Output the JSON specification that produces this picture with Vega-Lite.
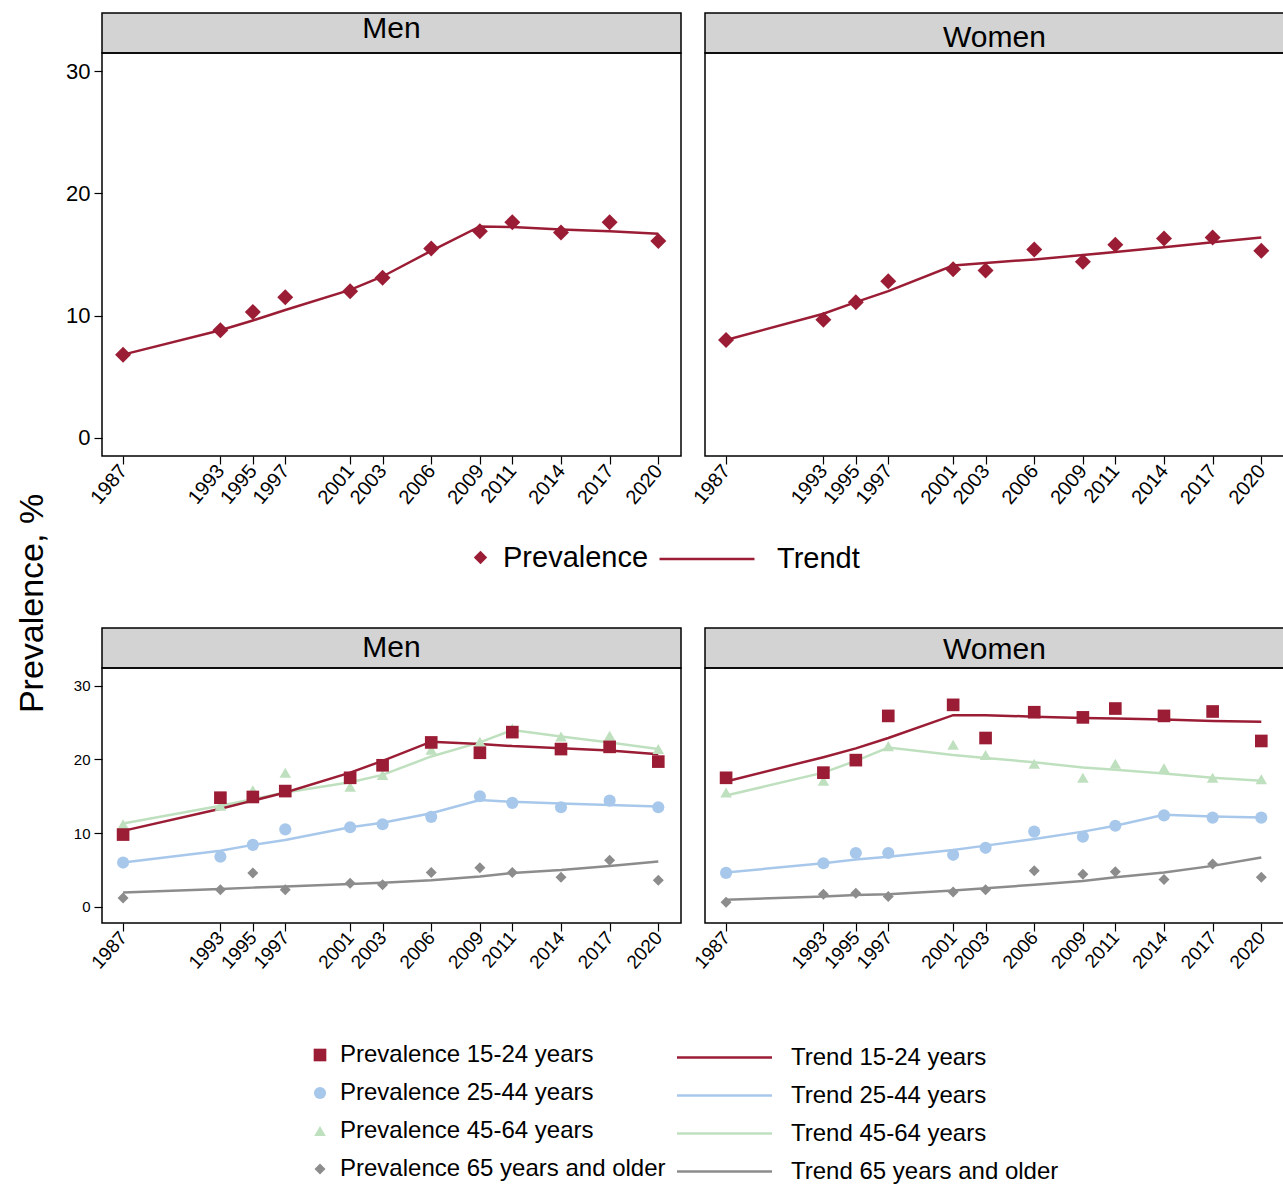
{
  "$schema": "https://vega.github.io/schema/vega-lite/v6.json",
  "padding": {"left": 14, "top": 12, "right": 0, "bottom": 0},
  "config": {
    "font": "Liberation Sans",
    "view": {"stroke": "black", "strokeWidth": 1.5},
    "axis": {"labelColor": "black", "tickColor": "black", "grid": false, "domain": false, "tickSize": 8, "tickWidth": 1.2, "labelOverlap": false},
    "legend": {"labelColor": "black", "padding": 0, "labelLimit": 0},
    "text": {"color": "black"}
  },
  "datasets": {
    "top": [
      {"sex":"Men","year":1987,"Prevalence":6.8,"Trendt":6.8},
      {"sex":"Men","year":1993,"Prevalence":8.8,"Trendt":8.8},
      {"sex":"Men","year":1995,"Prevalence":10.3,"Trendt":9.6},
      {"sex":"Men","year":1997,"Prevalence":11.5,"Trendt":10.45},
      {"sex":"Men","year":2001,"Prevalence":12.0,"Trendt":12.1},
      {"sex":"Men","year":2003,"Prevalence":13.1,"Trendt":13.2},
      {"sex":"Men","year":2006,"Prevalence":15.5,"Trendt":15.3},
      {"sex":"Men","year":2009,"Prevalence":16.9,"Trendt":17.3},
      {"sex":"Men","year":2011,"Prevalence":17.65,"Trendt":17.25},
      {"sex":"Men","year":2014,"Prevalence":16.8,"Trendt":17.05},
      {"sex":"Men","year":2017,"Prevalence":17.65,"Trendt":16.9},
      {"sex":"Men","year":2020,"Prevalence":16.1,"Trendt":16.7},
      {"sex":"Women","year":1987,"Prevalence":8.0,"Trendt":8.0},
      {"sex":"Women","year":1993,"Prevalence":9.65,"Trendt":10.15},
      {"sex":"Women","year":1995,"Prevalence":11.1,"Trendt":11.1},
      {"sex":"Women","year":1997,"Prevalence":12.8,"Trendt":12.0},
      {"sex":"Women","year":2001,"Prevalence":13.8,"Trendt":14.1},
      {"sex":"Women","year":2003,"Prevalence":13.7,"Trendt":14.3},
      {"sex":"Women","year":2006,"Prevalence":15.4,"Trendt":14.6},
      {"sex":"Women","year":2009,"Prevalence":14.4,"Trendt":14.95},
      {"sex":"Women","year":2011,"Prevalence":15.8,"Trendt":15.2},
      {"sex":"Women","year":2014,"Prevalence":16.3,"Trendt":15.6},
      {"sex":"Women","year":2017,"Prevalence":16.4,"Trendt":16.0},
      {"sex":"Women","year":2020,"Prevalence":15.3,"Trendt":16.4}
    ],
    "bot": [
      {"sex":"Men","p":"Prevalence 65 years and older","t":"Trend 65 years and older","year":1987,"prev":1.2,"trend":1.95},
      {"sex":"Men","p":"Prevalence 65 years and older","t":"Trend 65 years and older","year":1993,"prev":2.3,"trend":2.4},
      {"sex":"Men","p":"Prevalence 65 years and older","t":"Trend 65 years and older","year":1995,"prev":4.6,"trend":2.6},
      {"sex":"Men","p":"Prevalence 65 years and older","t":"Trend 65 years and older","year":1997,"prev":2.3,"trend":2.75},
      {"sex":"Men","p":"Prevalence 65 years and older","t":"Trend 65 years and older","year":2001,"prev":3.2,"trend":3.1},
      {"sex":"Men","p":"Prevalence 65 years and older","t":"Trend 65 years and older","year":2003,"prev":3.0,"trend":3.25},
      {"sex":"Men","p":"Prevalence 65 years and older","t":"Trend 65 years and older","year":2006,"prev":4.65,"trend":3.6},
      {"sex":"Men","p":"Prevalence 65 years and older","t":"Trend 65 years and older","year":2009,"prev":5.3,"trend":4.1},
      {"sex":"Men","p":"Prevalence 65 years and older","t":"Trend 65 years and older","year":2011,"prev":4.65,"trend":4.6},
      {"sex":"Men","p":"Prevalence 65 years and older","t":"Trend 65 years and older","year":2014,"prev":4.0,"trend":5.0},
      {"sex":"Men","p":"Prevalence 65 years and older","t":"Trend 65 years and older","year":2017,"prev":6.3,"trend":5.55},
      {"sex":"Men","p":"Prevalence 65 years and older","t":"Trend 65 years and older","year":2020,"prev":3.6,"trend":6.15},
      {"sex":"Men","p":"Prevalence 45-64 years","t":"Trend 45-64 years","year":1987,"prev":11.2,"trend":11.3},
      {"sex":"Men","p":"Prevalence 45-64 years","t":"Trend 45-64 years","year":1993,"prev":13.7,"trend":13.7},
      {"sex":"Men","p":"Prevalence 45-64 years","t":"Trend 45-64 years","year":1995,"prev":15.8,"trend":14.6},
      {"sex":"Men","p":"Prevalence 45-64 years","t":"Trend 45-64 years","year":1997,"prev":18.2,"trend":15.5},
      {"sex":"Men","p":"Prevalence 45-64 years","t":"Trend 45-64 years","year":2001,"prev":16.3,"trend":16.9},
      {"sex":"Men","p":"Prevalence 45-64 years","t":"Trend 45-64 years","year":2003,"prev":17.9,"trend":17.9},
      {"sex":"Men","p":"Prevalence 45-64 years","t":"Trend 45-64 years","year":2006,"prev":21.3,"trend":20.4},
      {"sex":"Men","p":"Prevalence 45-64 years","t":"Trend 45-64 years","year":2009,"prev":22.4,"trend":22.3},
      {"sex":"Men","p":"Prevalence 45-64 years","t":"Trend 45-64 years","year":2011,"prev":24.2,"trend":24.0},
      {"sex":"Men","p":"Prevalence 45-64 years","t":"Trend 45-64 years","year":2014,"prev":23.1,"trend":23.1},
      {"sex":"Men","p":"Prevalence 45-64 years","t":"Trend 45-64 years","year":2017,"prev":23.2,"trend":22.3},
      {"sex":"Men","p":"Prevalence 45-64 years","t":"Trend 45-64 years","year":2020,"prev":21.4,"trend":21.4},
      {"sex":"Men","p":"Prevalence 25-44 years","t":"Trend 25-44 years","year":1987,"prev":6.0,"trend":6.0},
      {"sex":"Men","p":"Prevalence 25-44 years","t":"Trend 25-44 years","year":1993,"prev":6.8,"trend":7.6},
      {"sex":"Men","p":"Prevalence 25-44 years","t":"Trend 25-44 years","year":1995,"prev":8.4,"trend":8.4},
      {"sex":"Men","p":"Prevalence 25-44 years","t":"Trend 25-44 years","year":1997,"prev":10.5,"trend":9.05},
      {"sex":"Men","p":"Prevalence 25-44 years","t":"Trend 25-44 years","year":2001,"prev":10.8,"trend":10.8},
      {"sex":"Men","p":"Prevalence 25-44 years","t":"Trend 25-44 years","year":2003,"prev":11.2,"trend":11.4},
      {"sex":"Men","p":"Prevalence 25-44 years","t":"Trend 25-44 years","year":2006,"prev":12.2,"trend":12.7},
      {"sex":"Men","p":"Prevalence 25-44 years","t":"Trend 25-44 years","year":2009,"prev":15.0,"trend":14.5},
      {"sex":"Men","p":"Prevalence 25-44 years","t":"Trend 25-44 years","year":2011,"prev":14.1,"trend":14.25},
      {"sex":"Men","p":"Prevalence 25-44 years","t":"Trend 25-44 years","year":2014,"prev":13.5,"trend":14.0},
      {"sex":"Men","p":"Prevalence 25-44 years","t":"Trend 25-44 years","year":2017,"prev":14.4,"trend":13.8},
      {"sex":"Men","p":"Prevalence 25-44 years","t":"Trend 25-44 years","year":2020,"prev":13.5,"trend":13.6},
      {"sex":"Men","p":"Prevalence 15-24 years","t":"Trend 15-24 years","year":1987,"prev":9.8,"trend":10.3},
      {"sex":"Men","p":"Prevalence 15-24 years","t":"Trend 15-24 years","year":1993,"prev":14.8,"trend":13.3},
      {"sex":"Men","p":"Prevalence 15-24 years","t":"Trend 15-24 years","year":1995,"prev":14.9,"trend":14.4},
      {"sex":"Men","p":"Prevalence 15-24 years","t":"Trend 15-24 years","year":1997,"prev":15.7,"trend":15.5},
      {"sex":"Men","p":"Prevalence 15-24 years","t":"Trend 15-24 years","year":2001,"prev":17.5,"trend":18.2},
      {"sex":"Men","p":"Prevalence 15-24 years","t":"Trend 15-24 years","year":2003,"prev":19.2,"trend":19.8},
      {"sex":"Men","p":"Prevalence 15-24 years","t":"Trend 15-24 years","year":2006,"prev":22.3,"trend":22.4},
      {"sex":"Men","p":"Prevalence 15-24 years","t":"Trend 15-24 years","year":2009,"prev":20.9,"trend":22.1},
      {"sex":"Men","p":"Prevalence 15-24 years","t":"Trend 15-24 years","year":2011,"prev":23.7,"trend":21.8},
      {"sex":"Men","p":"Prevalence 15-24 years","t":"Trend 15-24 years","year":2014,"prev":21.4,"trend":21.5},
      {"sex":"Men","p":"Prevalence 15-24 years","t":"Trend 15-24 years","year":2017,"prev":21.7,"trend":21.2},
      {"sex":"Men","p":"Prevalence 15-24 years","t":"Trend 15-24 years","year":2020,"prev":19.7,"trend":20.7},
      {"sex":"Women","p":"Prevalence 65 years and older","t":"Trend 65 years and older","year":1987,"prev":0.6,"trend":0.95},
      {"sex":"Women","p":"Prevalence 65 years and older","t":"Trend 65 years and older","year":1993,"prev":1.7,"trend":1.4},
      {"sex":"Women","p":"Prevalence 65 years and older","t":"Trend 65 years and older","year":1995,"prev":1.85,"trend":1.6},
      {"sex":"Women","p":"Prevalence 65 years and older","t":"Trend 65 years and older","year":1997,"prev":1.4,"trend":1.7},
      {"sex":"Women","p":"Prevalence 65 years and older","t":"Trend 65 years and older","year":2001,"prev":2.0,"trend":2.2},
      {"sex":"Women","p":"Prevalence 65 years and older","t":"Trend 65 years and older","year":2003,"prev":2.3,"trend":2.5},
      {"sex":"Women","p":"Prevalence 65 years and older","t":"Trend 65 years and older","year":2006,"prev":4.9,"trend":3.0},
      {"sex":"Women","p":"Prevalence 65 years and older","t":"Trend 65 years and older","year":2009,"prev":4.4,"trend":3.5},
      {"sex":"Women","p":"Prevalence 65 years and older","t":"Trend 65 years and older","year":2011,"prev":4.75,"trend":4.0},
      {"sex":"Women","p":"Prevalence 65 years and older","t":"Trend 65 years and older","year":2014,"prev":3.7,"trend":4.65},
      {"sex":"Women","p":"Prevalence 65 years and older","t":"Trend 65 years and older","year":2017,"prev":5.8,"trend":5.55},
      {"sex":"Women","p":"Prevalence 65 years and older","t":"Trend 65 years and older","year":2020,"prev":4.0,"trend":6.7},
      {"sex":"Women","p":"Prevalence 45-64 years","t":"Trend 45-64 years","year":1987,"prev":15.5,"trend":15.1},
      {"sex":"Women","p":"Prevalence 45-64 years","t":"Trend 45-64 years","year":1993,"prev":17.1,"trend":18.2},
      {"sex":"Women","p":"Prevalence 45-64 years","t":"Trend 45-64 years","year":1995,"prev":20.0,"trend":19.8},
      {"sex":"Women","p":"Prevalence 45-64 years","t":"Trend 45-64 years","year":1997,"prev":21.8,"trend":21.6},
      {"sex":"Women","p":"Prevalence 45-64 years","t":"Trend 45-64 years","year":2001,"prev":22.0,"trend":20.6},
      {"sex":"Women","p":"Prevalence 45-64 years","t":"Trend 45-64 years","year":2003,"prev":20.6,"trend":20.2},
      {"sex":"Women","p":"Prevalence 45-64 years","t":"Trend 45-64 years","year":2006,"prev":19.4,"trend":19.6},
      {"sex":"Women","p":"Prevalence 45-64 years","t":"Trend 45-64 years","year":2009,"prev":17.5,"trend":18.9},
      {"sex":"Women","p":"Prevalence 45-64 years","t":"Trend 45-64 years","year":2011,"prev":19.4,"trend":18.6},
      {"sex":"Women","p":"Prevalence 45-64 years","t":"Trend 45-64 years","year":2014,"prev":18.8,"trend":18.1},
      {"sex":"Women","p":"Prevalence 45-64 years","t":"Trend 45-64 years","year":2017,"prev":17.5,"trend":17.5},
      {"sex":"Women","p":"Prevalence 45-64 years","t":"Trend 45-64 years","year":2020,"prev":17.3,"trend":17.1},
      {"sex":"Women","p":"Prevalence 25-44 years","t":"Trend 25-44 years","year":1987,"prev":4.6,"trend":4.65},
      {"sex":"Women","p":"Prevalence 25-44 years","t":"Trend 25-44 years","year":1993,"prev":5.9,"trend":5.9},
      {"sex":"Women","p":"Prevalence 25-44 years","t":"Trend 25-44 years","year":1995,"prev":7.3,"trend":6.4},
      {"sex":"Women","p":"Prevalence 25-44 years","t":"Trend 25-44 years","year":1997,"prev":7.3,"trend":6.8},
      {"sex":"Women","p":"Prevalence 25-44 years","t":"Trend 25-44 years","year":2001,"prev":7.05,"trend":7.7},
      {"sex":"Women","p":"Prevalence 25-44 years","t":"Trend 25-44 years","year":2003,"prev":8.0,"trend":8.3},
      {"sex":"Women","p":"Prevalence 25-44 years","t":"Trend 25-44 years","year":2006,"prev":10.2,"trend":9.2},
      {"sex":"Women","p":"Prevalence 25-44 years","t":"Trend 25-44 years","year":2009,"prev":9.5,"trend":10.2},
      {"sex":"Women","p":"Prevalence 25-44 years","t":"Trend 25-44 years","year":2011,"prev":11.0,"trend":11.0},
      {"sex":"Women","p":"Prevalence 25-44 years","t":"Trend 25-44 years","year":2014,"prev":12.4,"trend":12.5},
      {"sex":"Women","p":"Prevalence 25-44 years","t":"Trend 25-44 years","year":2017,"prev":12.1,"trend":12.25},
      {"sex":"Women","p":"Prevalence 25-44 years","t":"Trend 25-44 years","year":2020,"prev":12.1,"trend":12.1},
      {"sex":"Women","p":"Prevalence 15-24 years","t":"Trend 15-24 years","year":1987,"prev":17.5,"trend":17.0},
      {"sex":"Women","p":"Prevalence 15-24 years","t":"Trend 15-24 years","year":1993,"prev":18.2,"trend":20.3},
      {"sex":"Women","p":"Prevalence 15-24 years","t":"Trend 15-24 years","year":1995,"prev":19.9,"trend":21.5},
      {"sex":"Women","p":"Prevalence 15-24 years","t":"Trend 15-24 years","year":1997,"prev":25.9,"trend":22.9},
      {"sex":"Women","p":"Prevalence 15-24 years","t":"Trend 15-24 years","year":2001,"prev":27.4,"trend":26.0},
      {"sex":"Women","p":"Prevalence 15-24 years","t":"Trend 15-24 years","year":2003,"prev":22.9,"trend":26.0},
      {"sex":"Women","p":"Prevalence 15-24 years","t":"Trend 15-24 years","year":2006,"prev":26.4,"trend":25.8},
      {"sex":"Women","p":"Prevalence 15-24 years","t":"Trend 15-24 years","year":2009,"prev":25.7,"trend":25.6},
      {"sex":"Women","p":"Prevalence 15-24 years","t":"Trend 15-24 years","year":2011,"prev":26.9,"trend":25.55},
      {"sex":"Women","p":"Prevalence 15-24 years","t":"Trend 15-24 years","year":2014,"prev":25.9,"trend":25.4},
      {"sex":"Women","p":"Prevalence 15-24 years","t":"Trend 15-24 years","year":2017,"prev":26.5,"trend":25.2},
      {"sex":"Women","p":"Prevalence 15-24 years","t":"Trend 15-24 years","year":2020,"prev":22.5,"trend":25.1}
    ]
  },
  "columns": 2,
  "bounds": "flush",
  "align": "each",
  "spacing": {"row": 0, "column": 24},
  "resolve": {
    "scale": {"fill": "independent", "shape": "independent", "stroke": "independent", "size": "independent"},
    "legend": {"fill": "independent", "shape": "independent", "stroke": "independent", "size": "independent"}
  },
  "concat": [
    {"width": 579, "height": 40, "view": {"fill": "#d3d3d3", "stroke": "black", "strokeWidth": 1.5},
     "data": {"values": [{"h": "Men"}]}, "mark": {"type": "text", "fontSize": 30, "baseline": "middle", "dy": -4}, "encoding": {"text": {"field": "h"}}},
    {"width": 579, "height": 40, "view": {"fill": "#d3d3d3", "stroke": "black", "strokeWidth": 1.5},
     "data": {"values": [{"h": "Women"}]}, "mark": {"type": "text", "fontSize": 30, "baseline": "middle", "dy": 5}, "encoding": {"text": {"field": "h"}}},
    {"width": 579, "height": 403,
     "data": {"name": "top"},
     "transform": [{"filter": "datum.sex === 'Men'"}, {"fold": ["Prevalence", "Trendt"], "as": ["series", "value"]}],
     "encoding": {
       "x": {"field": "year", "type": "quantitative", "scale": {"domain": [1985.7, 2021.4], "nice": false, "zero": false},
             "axis": {"title": null, "values": [1987,1993,1995,1997,2001,2003,2006,2009,2011,2014,2017,2020], "format": "d", "labelAngle": -50, "labelFontSize": 20, "labelPadding": 3}},
       "y": {"field": "value", "type": "quantitative", "scale": {"domain": [-1.5, 31.5], "nice": false, "zero": false},
             "axis": {"values": [0,10,20,30], "labelFontSize": 22, "labelPadding": 4,
                      "title": "Prevalence, %", "titleFontSize": 34, "titleFontWeight": "normal", "titleColor": "black", "titleAngle": 270, "titleAlign": "center", "titleBaseline": "middle", "titleX": -70, "titleY": 550}}
     },
     "layer": [
       {"transform": [{"filter": "datum.series === 'Trendt'"}],
        "mark": {"type": "line", "strokeWidth": 2.5},
        "encoding": {"stroke": {"field": "series", "type": "nominal", "scale": {"domain": ["Trendt"], "range": ["#9b1d35"]},
          "legend": {"title": null, "orient": "none", "legendX": 556, "legendY": 457, "labelFontSize": 29, "symbolType": "stroke", "symbolSize": 9025, "symbolStrokeWidth": 2.5, "labelOffset": 21}}}},
       {"transform": [{"filter": "datum.series === 'Prevalence'"}],
        "mark": {"type": "point", "filled": true, "opacity": 1, "size": 256},
        "encoding": {
          "fill": {"field": "series", "type": "nominal", "scale": {"domain": ["Prevalence"], "range": ["#9b1d35"]},
            "legend": {"title": null, "orient": "none", "legendX": 364, "legendY": 490, "labelFontSize": 29, "symbolSize": 180, "labelOffset": 8}},
          "shape": {"field": "series", "type": "nominal", "scale": {"domain": ["Prevalence"], "range": ["diamond"]},
            "legend": {"title": null, "orient": "none", "legendX": 364, "legendY": 490, "labelFontSize": 29, "symbolSize": 180, "labelOffset": 8}}
        }}
     ]},
    {"width": 579, "height": 403,
     "data": {"name": "top"},
     "transform": [{"filter": "datum.sex === 'Women'"}, {"fold": ["Prevalence", "Trendt"], "as": ["series", "value"]}],
     "encoding": {
       "x": {"field": "year", "type": "quantitative", "scale": {"domain": [1985.7, 2021.4], "nice": false, "zero": false},
             "axis": {"title": null, "values": [1987,1993,1995,1997,2001,2003,2006,2009,2011,2014,2017,2020], "format": "d", "labelAngle": -50, "labelFontSize": 20, "labelPadding": 3}},
       "y": {"field": "value", "type": "quantitative", "scale": {"domain": [-1.5, 31.5], "nice": false, "zero": false}, "axis": null}
     },
     "layer": [
       {"transform": [{"filter": "datum.series === 'Trendt'"}],
        "mark": {"type": "line", "strokeWidth": 2.5},
        "encoding": {"stroke": {"field": "series", "type": "nominal", "scale": {"domain": ["Trendt"], "range": ["#9b1d35"]}, "legend": null}}},
       {"transform": [{"filter": "datum.series === 'Prevalence'"}],
        "mark": {"type": "point", "filled": true, "opacity": 1, "size": 256},
        "encoding": {
          "fill": {"field": "series", "type": "nominal", "scale": {"domain": ["Prevalence"], "range": ["#9b1d35"]}, "legend": null},
          "shape": {"field": "series", "type": "nominal", "scale": {"domain": ["Prevalence"], "range": ["diamond"]}, "legend": null}
        }}
     ]},
    {"width": 579, "height": 172, "view": {"stroke": null}, "data": {"values": [{"t": ""}]}, "mark": "text", "encoding": {"text": {"field": "t"}}},
    {"width": 579, "height": 172, "view": {"stroke": null}, "data": {"values": [{"t": ""}]}, "mark": "text", "encoding": {"text": {"field": "t"}}},
    {"width": 579, "height": 40, "view": {"fill": "#d3d3d3", "stroke": "black", "strokeWidth": 1.5},
     "data": {"values": [{"h": "Men"}]}, "mark": {"type": "text", "fontSize": 30, "baseline": "middle"}, "encoding": {"text": {"field": "h"}}},
    {"width": 579, "height": 40, "view": {"fill": "#d3d3d3", "stroke": "black", "strokeWidth": 1.5},
     "data": {"values": [{"h": "Women"}]}, "mark": {"type": "text", "fontSize": 30, "baseline": "middle", "dy": 2}, "encoding": {"text": {"field": "h"}}},
    {"width": 579, "height": 255,
     "data": {"name": "bot"},
     "transform": [{"filter": "datum.sex === 'Men'"}],
     "encoding": {
       "x": {"field": "year", "type": "quantitative", "scale": {"domain": [1985.7, 2021.4], "nice": false, "zero": false},
             "axis": {"title": null, "values": [1987,1993,1995,1997,2001,2003,2006,2009,2011,2014,2017,2020], "format": "d", "labelAngle": -48, "labelFontSize": 19, "labelPadding": 3}}
     },
     "layer": [
       {"mark": {"type": "line", "strokeWidth": 2.5},
        "encoding": {
          "y": {"field": "trend", "type": "quantitative", "scale": {"domain": [-2.2, 32.4], "nice": false, "zero": false}, "axis": {"title": null, "values": [0,10,20,30], "labelFontSize": 15, "labelPadding": 4}},
          "stroke": {"field": "t", "type": "nominal", "scale": {"domain": ["Trend 15-24 years","Trend 25-44 years","Trend 45-64 years","Trend 65 years and older"], "range": ["#9b1d35","#a8c8eb","#bfe0bf","#8c8c8c"]},
            "legend": {"title": null, "orient": "none", "legendX": 609, "legendY": 376, "labelFontSize": 24, "symbolType": "M-4,0H4", "symbolSize": 564, "symbolStrokeWidth": 2.5, "labelOffset": 53, "rowPadding": 12}}
        }},
       {"mark": {"type": "point", "filled": true, "opacity": 1},
        "encoding": {
          "y": {"field": "prev", "type": "quantitative"},
          "fill": {"field": "p", "type": "nominal", "scale": {"domain": ["Prevalence 15-24 years","Prevalence 25-44 years","Prevalence 45-64 years","Prevalence 65 years and older"], "range": ["#9b1d35","#a8c8eb","#bfe0bf","#8c8c8c"]},
            "legend": {"title": null, "orient": "none", "legendX": 206, "legendY": 375, "labelFontSize": 24, "labelOffset": 8, "rowPadding": 14}},
          "shape": {"field": "p", "type": "nominal", "scale": {"domain": ["Prevalence 15-24 years","Prevalence 25-44 years","Prevalence 45-64 years","Prevalence 65 years and older"], "range": ["square","circle","triangle-up","diamond"]},
            "legend": {"title": null, "orient": "none", "legendX": 206, "legendY": 375, "labelFontSize": 24, "labelOffset": 8, "rowPadding": 14}},
          "size": {"field": "p", "type": "nominal", "scale": {"domain": ["Prevalence 15-24 years","Prevalence 25-44 years","Prevalence 45-64 years","Prevalence 65 years and older"], "range": [160, 121, 196, 225]},
            "legend": {"title": null, "orient": "none", "legendX": 206, "legendY": 375, "labelFontSize": 24, "labelOffset": 8, "rowPadding": 14}}
        }}
     ]},
    {"width": 579, "height": 255,
     "data": {"name": "bot"},
     "transform": [{"filter": "datum.sex === 'Women'"}],
     "encoding": {
       "x": {"field": "year", "type": "quantitative", "scale": {"domain": [1985.7, 2021.4], "nice": false, "zero": false},
             "axis": {"title": null, "values": [1987,1993,1995,1997,2001,2003,2006,2009,2011,2014,2017,2020], "format": "d", "labelAngle": -48, "labelFontSize": 19, "labelPadding": 3}}
     },
     "layer": [
       {"mark": {"type": "line", "strokeWidth": 2.5},
        "encoding": {
          "y": {"field": "trend", "type": "quantitative", "scale": {"domain": [-2.2, 32.4], "nice": false, "zero": false}, "axis": null},
          "stroke": {"field": "t", "type": "nominal", "scale": {"domain": ["Trend 15-24 years","Trend 25-44 years","Trend 45-64 years","Trend 65 years and older"], "range": ["#9b1d35","#a8c8eb","#bfe0bf","#8c8c8c"]}, "legend": null}
        }},
       {"mark": {"type": "point", "filled": true, "opacity": 1},
        "encoding": {
          "y": {"field": "prev", "type": "quantitative"},
          "fill": {"field": "p", "type": "nominal", "scale": {"domain": ["Prevalence 15-24 years","Prevalence 25-44 years","Prevalence 45-64 years","Prevalence 65 years and older"], "range": ["#9b1d35","#a8c8eb","#bfe0bf","#8c8c8c"]}, "legend": null},
          "shape": {"field": "p", "type": "nominal", "scale": {"domain": ["Prevalence 15-24 years","Prevalence 25-44 years","Prevalence 45-64 years","Prevalence 65 years and older"], "range": ["square","circle","triangle-up","diamond"]}, "legend": null},
          "size": {"field": "p", "type": "nominal", "scale": {"domain": ["Prevalence 15-24 years","Prevalence 25-44 years","Prevalence 45-64 years","Prevalence 65 years and older"], "range": [160, 121, 196, 225]}, "legend": null}
        }}
     ]}
  ]
}
